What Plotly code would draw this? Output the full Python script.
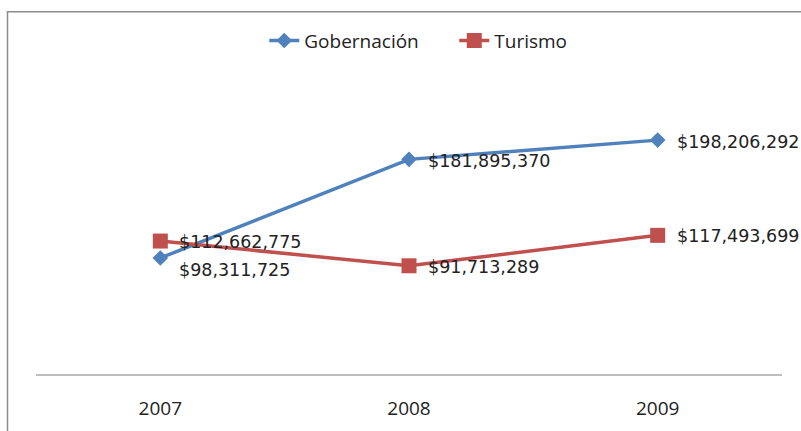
import plotly.graph_objects as go

years = ["2007", "2008", "2009"]
gobernacion = [98311725, 181895370, 198206292]
turismo = [112662775, 91713289, 117493699]
gob_labels = ["$98,311,725", "$181,895,370", "$198,206,292"]
tur_labels = ["$112,662,775", "$91,713,289", "$117,493,699"]

BLUE = "#4F81BD"
RED = "#C0504D"

fig = go.Figure()
fig.add_trace(go.Scatter(
    x=years, y=gobernacion, name="Gobernación", mode="lines+markers",
    line=dict(color=BLUE, width=3.5),
    marker=dict(symbol="diamond", size=12, color=BLUE),
))
fig.add_trace(go.Scatter(
    x=years, y=turismo, name="Turismo", mode="lines+markers",
    line=dict(color=RED, width=3.5),
    marker=dict(symbol="square", size=15, color=RED),
))

label_font = dict(family="DejaVu Sans", size=17.5, color="#222222")
annotations = []
for i, (y, t) in enumerate(zip(gobernacion, gob_labels)):
    annotations.append(dict(x=i, y=y, xref="x", yref="y", text=t,
                            xanchor="left", yanchor="middle",
                            xshift=17, yshift=(-12 if i == 0 else -2),
                            showarrow=False, font=label_font))
for i, (y, t) in enumerate(zip(turismo, tur_labels)):
    annotations.append(dict(x=i, y=y, xref="x", yref="y", text=t,
                            xanchor="left", yanchor="middle",
                            xshift=17, yshift=-1,
                            showarrow=False, font=label_font))

fig.update_layout(
    template="none",
    width=801, height=431,
    margin=dict(l=35.5, r=18.5, t=78.5, b=56.5, pad=0),
    paper_bgcolor="white", plot_bgcolor="white",
    showlegend=True,
    legend=dict(orientation="h", x=0.306, xanchor="left", y=1.13, yanchor="middle",
                font=dict(family="Open Sans", size=19, color="#222222"),
                entrywidth=145, bgcolor="rgba(0,0,0,0)", borderwidth=0),
    xaxis=dict(type="category", showgrid=False, zeroline=False, automargin=False,
               showline=True, linecolor="#BEBEBE", linewidth=1.5,
               ticks="", ticklabelstandoff=16,
               tickfont=dict(family="Open Sans", size=19, color="#222222"),
               range=[-0.5, 2.5]),
    yaxis=dict(visible=False, range=[0, 250000000], automargin=False),
    annotations=annotations,
    shapes=[dict(type="rect", xref="paper", yref="paper",
                 x0=-0.0382, x1=1.2, y0=-0.4, y1=1.228,
                 line=dict(color="#8C8C8C", width=1.5), fillcolor="rgba(0,0,0,0)",
                 layer="below")],
)

fig.write_html("out.html", config={"displayModeBar": False},
               post_script="document.body.style.margin='0';document.body.style.overflow='hidden';")
